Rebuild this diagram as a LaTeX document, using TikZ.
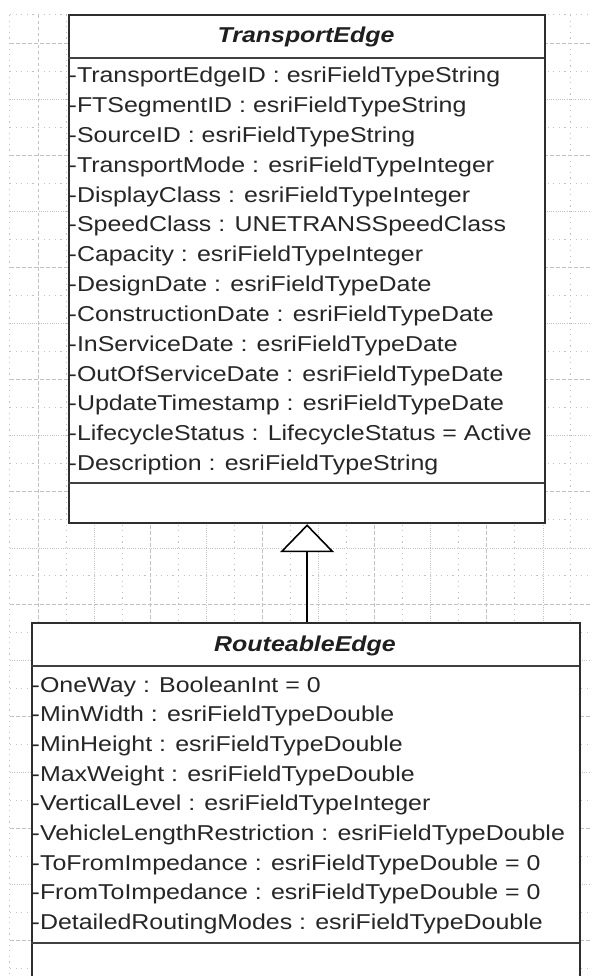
\documentclass[tikz,border=0pt]{standalone}
\usepackage{fontspec}
\setmainfont{Liberation Sans}[FakeStretch=1.16]
\usetikzlibrary{arrows.meta}

\begin{document}
\begin{tikzpicture}[x=1pt,y=-1pt,
  gridA/.style={draw=black!24, line width=0.8pt, dash pattern=on 3.5pt off 2.5pt},
  gridB/.style={draw=black!24, line width=0.8pt, dash pattern=on 1pt off 1.2pt},
  gridC/.style={draw=black!24, line width=1pt, dash pattern=on 1.2pt off 4.4pt},
  classbox/.style={draw=black!82, line width=2.2pt, fill=white, inner sep=0pt, anchor=north west},
  sepline/.style={draw=black!75, line width=2.6pt},
  titletext/.style={font=\bfseries\itshape\fontsize{21.5pt}{26pt}\selectfont, text=black!88, anchor=base, inner sep=0pt},
  attr/.style={font=\fontsize{21.5pt}{26pt}\selectfont, text=black!85, anchor=base west, inner sep=0pt},
  generalization/.style={draw=black, line width=2pt, -{Triangle[length=28pt, width=54pt, fill=white, line width=1.6pt]}}
]
\useasboundingbox (0,0) rectangle (591,976);
\clip (0,0) rectangle (591,976);

% background drawing grid
\foreach \k in {-1,...,19} {
  \pgfmathtruncatemacro\m{mod(\k+4,4)}
  \ifnum\m=0 \def\gs{gridA}\else\ifnum\m=2 \def\gs{gridB}\else\def\gs{gridC}\fi\fi
  \draw[\gs] ({38+28.05*\k},15) -- ({38+28.05*\k},976);
}
\foreach \k in {-1,...,33} {
  \pgfmathtruncatemacro\m{mod(\k+4,4)}
  \ifnum\m=0 \def\gs{gridA}\else\ifnum\m=2 \def\gs{gridB}\else\def\gs{gridC}\fi\fi
  \draw[\gs] (10,{43+28.05*\k}) -- (591,{43+28.05*\k});
}

% class TransportEdge
\node[classbox, minimum width=476pt, minimum height=508pt] (te) at (68,14) {};
\draw[sepline] (68,58) -- (544,58);
\draw[sepline] (68,483) -- (544,483);
\node[titletext] (te-title) at (306,43) {TransportEdge};
\foreach \t [count=\i from 0] in {%
  -TransportEdgeID : esriFieldTypeString,
  -FTSegmentID : esriFieldTypeString,
  -SourceID : esriFieldTypeString,
  -TransportMode : esriFieldTypeInteger,
  -DisplayClass : esriFieldTypeInteger,
  -SpeedClass : UNETRANSSpeedClass,
  -Capacity : esriFieldTypeInteger,
  -DesignDate : esriFieldTypeDate,
  -ConstructionDate : esriFieldTypeDate,
  -InServiceDate : esriFieldTypeDate,
  -OutOfServiceDate : esriFieldTypeDate,
  -UpdateTimestamp : esriFieldTypeDate,
  -LifecycleStatus : LifecycleStatus = Active,
  -Description : esriFieldTypeString}
  \node[attr] (te-a\i) at (68.5,{83+29.8*\i}) {\t};

% class RouteableEdge
\node[classbox, minimum width=548pt, minimum height=390pt] (re) at (31,622) {};
\draw[sepline] (31,666) -- (579,666);
\draw[sepline] (31,943) -- (579,943);
\node[titletext] (re-title) at (305,651) {RouteableEdge};
\foreach \t [count=\i from 0] in {%
  -OneWay : BooleanInt = 0,
  -MinWidth : esriFieldTypeDouble,
  -MinHeight : esriFieldTypeDouble,
  -MaxWeight : esriFieldTypeDouble,
  -VerticalLevel : esriFieldTypeInteger,
  -VehicleLengthRestriction : esriFieldTypeDouble,
  -ToFromImpedance : esriFieldTypeDouble = 0,
  -FromToImpedance : esriFieldTypeDouble = 0,
  -DetailedRoutingModes : esriFieldTypeDouble}
  \node[attr] (re-a\i) at (31.5,{692+29.7*\i}) {\t};

% generalization RouteableEdge -> TransportEdge
\draw[generalization] (re.north -| te.south) -- (te.south);
\end{tikzpicture}
\end{document}
